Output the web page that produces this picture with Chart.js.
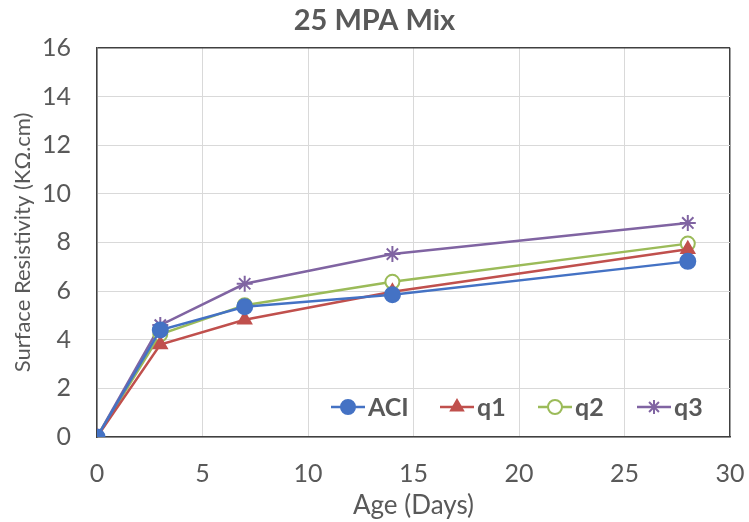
<!DOCTYPE html>
<html lang="en">
<head>
<meta charset="UTF-8">
<title>25 MPA Mix</title>
<script src="https://cdn.jsdelivr.net/npm/chart.js"></script>
<style>
  html, body { margin: 0; padding: 0; background: #fff; }
  #wrap { width: 749px; height: 522px; }
</style>
</head>
<body>
<div id="wrap"><canvas id="myChart" width="749" height="522"></canvas></div>
<script>
// age in days
const ages = [0, 3, 7, 14, 28];
const aciVals = [0, 4.4, 5.35, 5.85, 7.22];
const q1Vals = [0, 3.8, 4.82, 5.97, 7.72];
const q2Vals = [0, 4.22, 5.42, 6.38, 7.95];
const q3Vals = [0, 4.6, 6.3, 7.52, 8.8];
const seriesNames = ['ACI', 'q1', 'q2', 'q3'];
const xTicks = [0, 5, 10, 15, 20, 25, 30];
const yTicks = [0, 2, 4, 6, 8, 10, 12, 14, 16];

const FONT = 'Lato, "Open Sans", sans-serif';
const TXT = '#595959';

function pts(vals) {
  return ages.map((a, i) => ({ x: a, y: vals[i] }));
}

const styles = [
  { color: '#4472C4', point: 'circle', fill: '#4472C4', r: 7.5 },
  { color: '#C0504D', point: 'triangle', fill: '#C0504D', r: 7.5 },
  { color: '#9BBB59', point: 'circle', fill: '#ffffff', r: 7 },
  { color: '#8064A2', point: 'star', fill: '#8064A2', r: 8 }
];
const allVals = [aciVals, q1Vals, q2Vals, q3Vals];

const datasets = allVals.map((v, i) => ({
  label: seriesNames[i],
  data: pts(v),
  borderColor: styles[i].color,
  backgroundColor: styles[i].fill,
  pointStyle: styles[i].point,
  pointRadius: styles[i].r,
  pointBorderColor: styles[i].color,
  pointBackgroundColor: styles[i].fill,
  pointBorderWidth: 2,
  borderWidth: 2.5,
  tension: 0
}));

// legend drawn inside the plot area, bottom right
const innerLegend = {
  id: 'innerLegend',
  afterDraw(chart) {
    const ctx = chart.ctx;
    const area = chart.chartArea;
    const xs = [331, 440, 538, 637];
    const y = area.bottom - 30;
    ctx.save();
    chart.data.datasets.forEach((ds, i) => {
      const x0 = xs[i];
      ctx.strokeStyle = ds.borderColor;
      ctx.lineWidth = 2.5;
      ctx.beginPath();
      ctx.moveTo(x0, y);
      ctx.lineTo(x0 + 34, y);
      ctx.stroke();
      ctx.fillStyle = ds.pointBackgroundColor;
      ctx.strokeStyle = ds.pointBorderColor;
      ctx.lineWidth = 2;
      Chart.helpers.drawPoint(ctx, { pointStyle: ds.pointStyle, radius: 7, borderWidth: 2, rotation: 0 }, x0 + 17, y);
      ctx.fillStyle = TXT;
      ctx.font = 'bold 25px ' + FONT;
      ctx.textBaseline = 'middle';
      ctx.textAlign = 'left';
      ctx.fillText(ds.label, x0 + 37, y + 1);
    });
    ctx.restore();
  }
};

new Chart(document.getElementById('myChart'), {
  type: 'line',
  data: { datasets: datasets },
  options: {
    responsive: false,
    animation: false,
    layout: { padding: { top: 0, right: 0, left: 0, bottom: 0 } },
    plugins: {
      legend: { display: false },
      tooltip: { enabled: false },
      title: {
        display: true,
        text: '25 MPA Mix',
        color: TXT,
        font: { family: FONT, size: 29, weight: 'bold', lineHeight: 1.2 },
        padding: { top: 3, bottom: 10 }
      }
    },
    scales: {
      x: {
        type: 'linear',
        min: 0, max: 30,
        afterBuildTicks: (s) => { s.ticks = xTicks.map(v => ({ value: v })); },
        afterFit: (s) => { s.height = 85; s.paddingRight = 19; s.paddingLeft = 0; },
        ticks: { color: TXT, font: { family: FONT, size: 25 }, padding: 22 },
        grid: {
          color: (c) => c.tick && c.tick.value === 30 ? '#404040' : '#D9D9D9',
          lineWidth: (c) => c.tick && c.tick.value === 30 ? 1.5 : 1,
          drawTicks: false
        },
        border: { color: '#404040', width: 1.5 },
        title: { display: true, text: 'Age (Days)', color: TXT, font: { family: FONT, size: 26 }, padding: { top: 0, bottom: 1 } }
      },
      y: {
        min: 0, max: 16,
        afterBuildTicks: (s) => { s.ticks = yTicks.map(v => ({ value: v })); },
        afterFit: (s) => { s.width = 97; },
        ticks: { color: TXT, font: { family: FONT, size: 25 }, padding: 26 },
        grid: {
          color: (c) => c.tick && c.tick.value === 16 ? '#404040' : '#D9D9D9',
          lineWidth: (c) => c.tick && c.tick.value === 16 ? 1.5 : 1,
          drawTicks: false
        },
        border: { color: '#404040', width: 1.5 },
        title: { display: true, text: 'Surface Resistivity (KΩ.cm)', color: TXT, font: { family: FONT, size: 22 }, padding: { top: 10, bottom: 0 } }
      }
    }
  },
  plugins: [innerLegend]
});
</script>
</body>
</html>
